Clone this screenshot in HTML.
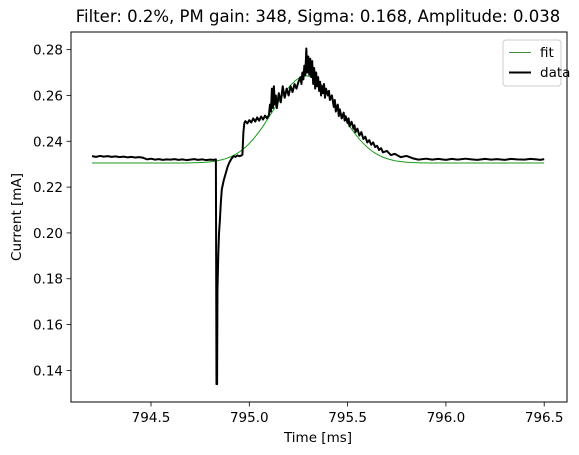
<!DOCTYPE html>
<html><head><meta charset="utf-8"><style>
html,body{margin:0;padding:0;background:#fff;}
svg{display:block;font-family:"DejaVu Sans","Liberation Sans",sans-serif;}
</style></head><body>
<svg id="chart" width="579" height="455" viewBox="0 0 579 455" xmlns="http://www.w3.org/2000/svg">
<rect x="0" y="0" width="579" height="455" fill="#fff"/>
<text x="318" y="22" font-size="16.5" text-anchor="middle" fill="#000">Filter: 0.2%, PM gain: 348, Sigma: 0.168, Amplitude: 0.038</text>
<g id="axes"></g>
<g id="marks"></g>
<rect x="71" y="32" width="496" height="370" fill="none" stroke="#000" stroke-width="1"/>
<g>
<rect x="503" y="40" width="58" height="46" rx="3" fill="#fff" fill-opacity="0.8" stroke="#ccc" stroke-width="1"/>
<line x1="509" y1="52.5" x2="531" y2="52.5" stroke="#006400" stroke-width="0.8"/>
<text x="540" y="57" font-size="13.5" fill="#000">fit</text>
<line x1="509" y1="72.5" x2="531" y2="72.5" stroke="#000" stroke-width="2"/>
<text x="540" y="77" font-size="13.5" fill="#000">data</text>
</g>
<text x="318" y="442" font-size="13.5" text-anchor="middle">Time [ms]</text>
<text x="0" y="0" font-size="13.5" text-anchor="middle" transform="translate(21,217) rotate(-90)">Current [mA]</text>
</svg>
<script>
const xTicks = [794.5, 795.0, 795.5, 796.0, 796.5];
const xTickLabels = ["794.5", "795.0", "795.5", "796.0", "796.5"];
const yTicks = [0.14, 0.16, 0.18, 0.20, 0.22, 0.24, 0.26, 0.28];
const yTickLabels = ["0.14", "0.16", "0.18", "0.20", "0.22", "0.24", "0.26", "0.28"];
const dataTimes = [794.20,794.22,794.24,794.26,794.28,794.30,794.32,794.34,794.36,794.38,794.40,794.42,794.44,794.46,794.48,794.50,794.52,794.54,794.56,794.58,794.60,794.62,794.64,794.66,794.68,794.70,794.72,794.74,794.76,794.78,794.80,794.82,794.830,794.833,794.836,794.838,794.842,794.846,794.850,794.855,794.86,794.87,794.88,794.89,794.90,794.91,794.92,794.93,794.94,794.95,794.96,794.965,794.97,794.975,794.98,794.99,795.00,795.01,795.02,795.03,795.04,795.05,795.06,795.07,795.08,795.09,795.10,795.105,795.11,795.115,795.12,795.125,795.13,795.135,795.14,795.15,795.16,795.17,795.18,795.19,795.20,795.21,795.22,795.23,795.24,795.25,795.26,795.265,795.27,795.275,795.28,795.285,795.29,795.295,795.30,795.305,795.31,795.315,795.32,795.325,795.33,795.335,795.34,795.345,795.35,795.355,795.36,795.365,795.37,795.375,795.38,795.385,795.39,795.40,795.405,795.41,795.42,795.43,795.435,795.44,795.45,795.455,795.46,795.47,795.48,795.485,795.49,795.50,795.505,795.51,795.52,795.53,795.535,795.54,795.55,795.56,795.57,795.58,795.59,795.60,795.61,795.62,795.63,795.64,795.65,795.66,795.67,795.68,795.70,795.72,795.74,795.77,795.80,795.83,795.86,795.90,795.93,795.96,796.00,796.03,796.06,796.10,796.13,796.16,796.20,796.23,796.26,796.30,796.33,796.36,796.40,796.43,796.46,796.48,796.50];
const dataValues = [0.2335,0.2332,0.2336,0.2333,0.2335,0.2332,0.2334,0.2331,0.2333,0.2330,0.2332,0.2329,0.2331,0.2328,0.2321,0.2324,0.2320,0.2322,0.2319,0.2321,0.2320,0.2322,0.2319,0.2321,0.2318,0.2320,0.2322,0.2319,0.2321,0.2318,0.2320,0.2319,0.2321,0.134,0.134,0.175,0.190,0.200,0.205,0.213,0.219,0.223,0.226,0.229,0.231,0.2325,0.2335,0.2332,0.2338,0.2335,0.2338,0.2342,0.2440,0.2480,0.2488,0.2478,0.2492,0.2482,0.2500,0.2486,0.2504,0.2490,0.2508,0.2495,0.2512,0.2500,0.2515,0.2560,0.2530,0.2630,0.2545,0.2640,0.2560,0.2600,0.2545,0.2610,0.2570,0.2640,0.2590,0.2630,0.2600,0.2640,0.2615,0.2650,0.2630,0.2660,0.2680,0.2650,0.2700,0.2670,0.2730,0.2690,0.2805,0.2700,0.2770,0.2690,0.2760,0.2680,0.2750,0.2650,0.2720,0.2630,0.2700,0.2640,0.2680,0.2620,0.2660,0.2600,0.2640,0.2610,0.2650,0.2590,0.2630,0.2600,0.2620,0.2580,0.2600,0.2550,0.2580,0.2530,0.2560,0.2510,0.2540,0.2500,0.2525,0.2490,0.2510,0.2480,0.2500,0.2465,0.2485,0.2455,0.2470,0.2440,0.2455,0.2425,0.2440,0.2410,0.2420,0.2395,0.2405,0.2385,0.2395,0.2375,0.2380,0.2362,0.2370,0.2352,0.2358,0.2340,0.2345,0.2331,0.2336,0.2326,0.2320,0.2324,0.2320,0.2323,0.2319,0.2323,0.2320,0.2324,0.2321,0.2319,0.2323,0.2320,0.2322,0.2319,0.2323,0.2321,0.2320,0.2323,0.2321,0.2319,0.2322,0.2320,0.2324,0.2321,0.2319,0.2323,0.2325,0.2320];
const fitBaseline = [0.2305];
const fitAmplitude = [0.038];
const fitCenter = [795.29];
const fitSigma = [0.168];

const NS = "http://www.w3.org/2000/svg";
const L = 71, R = 567, T = 32, B = 402;
const xMin = 794.093, xMax = 796.616, yMin = 0.1262, yMax = 0.2877;
function xs(v){ return L + (v - xMin) / (xMax - xMin) * (R - L); }
function ys(v){ return B - (v - yMin) / (yMax - yMin) * (B - T); }
function mk(tag, attrs){ const e = document.createElementNS(NS, tag); for (const k in attrs) e.setAttribute(k, attrs[k]); return e; }

const axes = document.getElementById('axes');
xTicks.forEach((v, i) => {
  const x = xs(v);
  const t = mk('line', {x1: x, y1: B, x2: x, y2: B + 4.5, stroke: '#000', 'stroke-width': 0.8});
  
  
  axes.appendChild(t);
  const lb = mk('text', {x: x, y: B + 20, 'font-size': 13.5, 'text-anchor': 'middle'});
  lb.textContent = xTickLabels[i];
  
  
  axes.appendChild(lb);
});
yTicks.forEach((v, i) => {
  const y = ys(v);
  const t = mk('line', {x1: L - 4.5, y1: y, x2: L, y2: y, stroke: '#000', 'stroke-width': 0.8});
  
  
  axes.appendChild(t);
  const lb = mk('text', {x: L - 8, y: y + 5, 'font-size': 13.5, 'text-anchor': 'end'});
  lb.textContent = yTickLabels[i];
  
  
  axes.appendChild(lb);
});

const marks = document.getElementById('marks');
let fd = '';
const t0 = dataTimes[0], t1 = dataTimes[dataTimes.length - 1];
for (let i = 0; i <= 300; i++) {
  const t = t0 + (t1 - t0) * i / 300;
  const v = fitBaseline[0] + fitAmplitude[0] * Math.exp(-Math.pow(t - fitCenter[0], 2) / (2 * fitSigma[0] * fitSigma[0]));
  fd += (i ? 'L' : 'M') + xs(t).toFixed(2) + ',' + ys(v).toFixed(2);
}
const fit = mk('path', {d: fd, fill: 'none', stroke: '#1a9a1a', 'stroke-width': 1});


marks.appendChild(fit);

let dd = '';
dataTimes.forEach((t, i) => { dd += (i ? 'L' : 'M') + xs(t).toFixed(2) + ',' + ys(dataValues[i]).toFixed(2); });
const data = mk('path', {d: dd, fill: 'none', stroke: '#000', 'stroke-width': 2, 'stroke-linejoin': 'round'});


marks.appendChild(data);
</script>
</body></html>
